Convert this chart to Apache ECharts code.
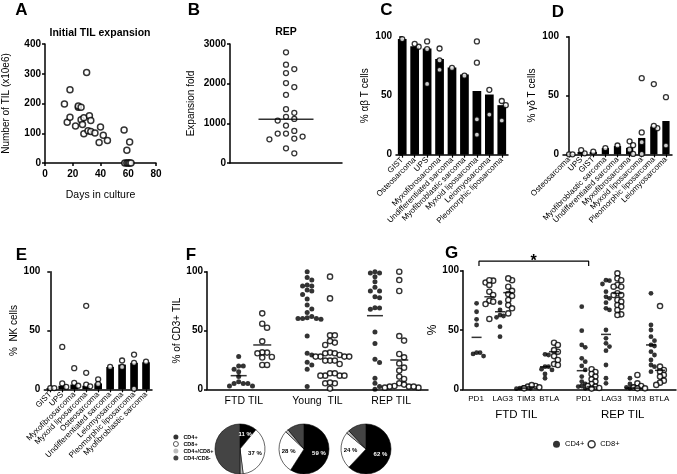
<!DOCTYPE html>
<html><head><meta charset="utf-8">
<script src="https://cdn.jsdelivr.net/npm/echarts@6/dist/echarts.min.js"></script>
<style>html,body{margin:0;padding:0;background:#fff}#c{width:677px;height:474px}</style>
</head><body><div id="c"></div>
<script>
// ================= DATA =================
// Panel A
const aDays = [14,18,16,18,22,24,24,26,30,26,27,28,32,33,28,31,33,36,40,39,42,45,57,61,59,57.5,59,60,61,62];
const aTil  = [198,246,137,154,124,187,192,187,304,145,129,152,159,143,98,108,106,101,121,69,93,76,111,71,43,0,0,0,0,0];
// Panel B
const bFold = [2790,2478,2368,2267,2014,1913,1719,1357,1264,1163,1070,1112,944,809,742,742,666,598,615,371,244];
const bMedian = 1104;
// Panel C
const cCats = ['GIST','Osteosarcoma','UPS','Myxofibrosarcoma','Undifferentiated sarcoma','Myofibroblastic sarcoma','Myxoid liposarcoma','Leiomyosarcoma','Pleomorphic liposarcoma'];
const cBars = [98,92,90,81,74,68,54,51,42];
const cDots = [[98],[91.5,94],[96,89.5,60],[90,80,72],[73.5],[67],[96,78,30,17],[55,34],[45.5,42,29]];
// Panel D
const dCats = ['Osteosarcoma','UPS','GIST','Myofibroblastic sarcoma','Undifferentiated sarcoma','Myxofibrosarcoma','Myxoid liposarcoma','Pleomorphic liposarcoma','Leiomyosarcoma'];
const dBars = [0,2,2,5.3,7,5.5,13.9,23.6,28.3];
const dDots = [[0,0],[0.8,3.6],[2.2],[5.3],[7.5],[11,7.8,3.9,0.3],[64.7,18.6,10.3,0.3],[59.7,22.2,24.2],[48.6,7.5]];
// Panel E
const eCats = ['GIST','UPS','Myxofibrosarcoma','Myxoid liposarcoma','Osteosarcoma','Undifferentiated sarcoma','Leiomyosarcoma','Pleomorphic liposarcoma','Myofibroblastic sarcoma'];
const eBars = [1,3,4,3,5,19,21,22.5,23];
const eDots = [[1,1],[36,5,2],[18,5.5,3],[71,14,4,2.5],[8.5,4.5],[19],[24.5,19],[29.5,22.5,0.5],[23.5]];
// Panel F
const fCats = ['FTD TIL','Young  TIL','REP TIL'];
const fCD4 = [
  [27.8,19.8,19.8,17,15,10.8,6.5,5,5,5,2.8,2.8],
  [100,95,93,88.7,87.8,87.8,84.4,83.6,80.7,76.8,71.7,68.3,65.4,61.8,60.3,59.5,60.3,60.3,60.9,45.3,29.2,30.6,22.9,20.7,17,2.3],
  [99,100,99,95.8,91.5,83.6,83.6,86.7,78.8,77.9,69.1,68,69.4,25.5,48.7,39,22.7,9.3,5.1,2.3,0]
];
const fCD8 = [
  [64.6,55.8,52.4,40.8,31.2,31.4,30.6,27.5,27,20.7,20.7],
  [95.8,77.3,45.9,45.9,39.7,37.7,41,31.2,30.6,30.6,29.2,27.8,27.8,27.8,27.8,24.4,24.4,24.4,21.5,11.6,11.6,11.6,11.6,13.6,13.6,5.1,5.1,5.7,0.6],
  [100,92.9,83.6,45.3,41.4,30,27.2,22,18.4,15.9,10.8,8.8,5.1,4,2.8,2.3,2.3,1.4,1.4,2.3]
];
const fMedCD4 = [11.6,null,62.6];
const fMedCD8 = [37.7,null,24.9];
const pieNames = ['CD4+','CD8+','CD4+/CD8+','CD4-/CD8-'];
const pieFTD = [11,37,2,50];
const pieYoung = [59,28,2,11];
const pieREP = [62,24,2,12];
// Panel G
const gMarkers = ['PD1','LAG3','TIM3','BTLA','PD1','LAG3','TIM3','BTLA'];
const gGroups = ['FTD TIL','REP TIL'];
const gCD4 = [
  [72.5,65.4,59,54.2,30.9,29.8,30.9,28],
  [73,66.9,62.6,61.8,60.7,52.8,44.4],
  [1.7,0.8,1.4,0.5,1],
  [29.5,28.9,19.1,19.1,16.3,13,9.3,17],
  [69.7,49.4,37.4,35.4,26.1,23.3,19.7,16.3,10.7,6.5,4.5,2.8,1.7,2.3,0.8],
  [92,91.6,88.8,82.3,78,76.7,73,68.3,66.9,50,43,38.8,36,32.6,20.5,9.3,5],
  [9.3,4.5,2.3,1.7,0.8,0.8],
  [80.9,54.2,50,44.4,41,37.4,36.5,31.7,28.9,24.7,20.5,19.1,14.9]
];
const gCD8 = [
  [91.6,90,88,92,82.3,79.5,74.7,73.9,71.9,59.3],
  [92,93.5,86.5,83,80.3,78.7,75.3,71,68.3,64],
  [2.8,2.3,0.8,1.7,3.5],
  [39.3,37.4,31.7,28,24.7,21.3,20.5,33],
  [16.9,14.6,12.9,10.7,8.4,6.5,4.5,2.8,2.3,1.1,0.6],
  [97.8,93.5,92,88,86.5,86.5,81,79.5,79.5,75.3,73.9,71,69.7,66.9,63.2,62.6],
  [12.1,5,2.8,1.7,0.8,0.8],
  [70.2,19.1,16.3,14.9,12.1,10.7,7.3,5.6,3.7]
];
const gMedCD4 = [43.8,65.4,1,19,15.7,46.3,1,37.4];
const gMedCD8 = [78,81.5,2,31.7,2,80.9,1,16];

// ================= LAYOUT =================
const FF = 'Liberation Sans';
const fCenter4 = [0.43,1.36,2.28], fCenter8 = [0.75,1.67,2.61];
const gCenter4 = [0.51,1.39,2.27,3.08,4.46,5.37,6.27,7.06];
const gCenter8 = [0.99,1.70,2.58,3.42,4.83,5.80,6.55,7.40];
const gLabelPos = [0.49,1.49,2.37,3.24,4.54,5.58,6.52,7.37];
const bracketX = [0.6,4.72];

// column beeswarm: places points in columns so they don't overlap
function swarm(values, center, stepPx, xPx, yPx, minDist) {
  const cols = {}; const out = new Array(values.length);
  const order = values.map((v,i)=>i).sort((a,b)=>values[b]-values[a]);
  order.forEach(i => {
    const py = values[i]*yPx;
    for (let k=0;k<60;k++) {
      const c = k===0?0:(k%2===1?(k+1)/2:-k/2);
      const list = cols[c]||(cols[c]=[]);
      if (list.every(q=>Math.abs(q-py)>=minDist)) { list.push(py); out[i]=[center+c*stepPx/xPx, values[i]]; break; }
    }
  });
  return out;
}
function swarmGroups(groups, centers, stepPx, xPx, yPx, minDist) {
  let all = [];
  groups.forEach((g,i)=>{ all = all.concat(swarm(g, centers[i], stepPx, xPx, yPx, minDist)); });
  return all;
}

const black = '#000';
const openStyle = {color:'#fff', borderColor:black, borderWidth:1.3};
function yAx(gridIndex, max, interval, name, nameGap, nameSize) {
  return {type:'value', gridIndex, min:0, max, interval, position:'left',
    name, nameLocation:'middle', nameGap,
    nameTextStyle:{fontSize:nameSize||10, color:black, fontFamily:FF},
    axisLine:{show:true, lineStyle:{color:black, width:1.5}},
    axisTick:{show:true, inside:false, length:3, lineStyle:{color:black, width:1.5}},
    axisLabel:{fontSize:10, fontWeight:'bold', color:black, margin:4, fontFamily:FF, formatter:(v)=>String(v)},
    splitLine:{show:false}};
}
function catAx(gridIndex, cats) {
  return {type:'category', gridIndex, data:cats, position:'bottom',
    axisLine:{show:true, lineStyle:{color:black, width:1.5}},
    axisTick:{show:true, alignWithLabel:true, length:3, lineStyle:{color:black, width:1.2}},
    axisLabel:{interval:0, rotate:45, fontSize:8, color:black, margin:4, fontFamily:FF}};
}
function hidAx(gridIndex, n) {
  return {type:'value', gridIndex, min:-0.5, max:n-0.5, show:false, position:'bottom'};
}
function medianData(meds, centers) {
  const out = [];
  meds.forEach((m,i)=>{ if (m!==null) out.push([centers[i], m]); });
  return out;
}
function pie(center, vals, c4, c8) {
  return {type:'pie', center, radius:25, startAngle:90, silent:true, avoidLabelOverlap:false,
    labelLine:{show:false},
    itemStyle:{borderColor:black, borderWidth:0.6},
    data: pieNames.map((n,i)=>({name:n, value:vals[i],
      itemStyle:{color:['#000','#fff','#bdbdbd','#444'][i]},
      label: i<2 ? {show:true, position:'inside', formatter:'{c} %', fontSize:6, fontWeight:'bold', fontFamily:FF, color: i===0?c4:c8} : {show:false}
    }))};
}

const grids = [
  {left:45, top:44, width:111, height:119},
  {left:230, top:44, width:112, height:119},
  {left:396, top:36.7, width:112, height:118},
  {left:563, top:36.7, width:109, height:117.6},
  {left:44.3, top:271.7, width:107.7, height:117.6},
  {left:207, top:271.7, width:221, height:117.6},
  {left:463, top:270.7, width:213, height:118.6}
].map(g=>Object.assign(g,{outerBoundsMode:'none', containLabel:false}));

const xAxis = [
  {type:'value', gridIndex:0, min:0, max:80, interval:20, position:'bottom',
    axisLine:{show:true, onZero:false, lineStyle:{color:black,width:1.5}},
    axisTick:{show:true, length:3, lineStyle:{color:black,width:1.5}},
    axisLabel:{fontSize:10, fontWeight:'bold', color:black, margin:6, fontFamily:FF},
    splitLine:{show:false}, name:'Days in culture', nameLocation:'middle', nameGap:27,
    nameTextStyle:{fontSize:10.5, color:black, fontFamily:FF}},
  {type:'value', gridIndex:1, min:0, max:1, position:'bottom',
    axisLine:{show:true, onZero:false, lineStyle:{color:black,width:1.5}},
    axisTick:{show:false}, axisLabel:{show:false}, splitLine:{show:false}},
  catAx(2, cCats), hidAx(2, cCats.length),
  catAx(3, dCats), hidAx(3, dCats.length),
  catAx(4, eCats), hidAx(4, eCats.length),
  {type:'value', gridIndex:5, min:0, max:3, position:'bottom',
    axisLine:{show:true, onZero:false, lineStyle:{color:black,width:1.5}},
    axisTick:{show:false}, axisLabel:{show:false}, splitLine:{show:false}},
  {type:'category', gridIndex:5, data:fCats, position:'bottom',
    axisLine:{show:false}, axisTick:{show:false},
    axisLabel:{fontSize:10.5, color:black, margin:6, fontFamily:FF}},
  {type:'value', gridIndex:6, min:0, max:8, position:'bottom',
    axisLine:{show:true, onZero:false, lineStyle:{color:black,width:1.5}},
    axisTick:{show:false}, splitLine:{show:false},
    axisLabel:{customValues:gLabelPos, fontSize:8, color:black, margin:5, fontFamily:FF,
      formatter:(v)=>{ const i = gLabelPos.findIndex(p=>Math.abs(p-v)<1e-6); return i>=0?gMarkers[i]:''; }}},
  {type:'category', gridIndex:6, data:gGroups, position:'bottom', offset:16,
    axisLine:{show:false}, axisTick:{show:false},
    axisLabel:{fontSize:11.5, color:black, margin:4, fontFamily:FF}}
];

const yAxis = [
  yAx(0, 400, 100, 'Number of TIL (x10e6)', 34),
  yAx(1, 3000, 1000, 'Expansion fold', 34),
  yAx(2, 100, 50, '% αβ T cells', 26),
  yAx(3, 100, 50, '% γδ T cells', 26),
  yAx(4, 100, 50, '%  NK cells', 21),
  yAx(5, 100, 50, '% of CD3+ TIL', 19),
  yAx(6, 100, 50, '%', 16, 12)
];

const dot = (x,y,data,extra)=>Object.assign({type:'scatter', xAxisIndex:x, yAxisIndex:y, data, symbol:'circle', symbolSize:5, itemStyle:openStyle, z:5, clip:false, silent:true}, extra||{});
const bar = (x,y,data,w)=>({type:'bar', xAxisIndex:x, yAxisIndex:y, data, barWidth:w, itemStyle:{color:black}, silent:true});
const med = (x,y,data,w)=>({type:'scatter', xAxisIndex:x, yAxisIndex:y, data, symbol:'rect', symbolSize:[w,1.5], itemStyle:{color:black}, z:6, silent:true});

const series = [
  dot(0,0, aDays.map((d,i)=>[d,aTil[i]]), {symbolSize:6, itemStyle:{color:'#fff',borderColor:black,borderWidth:1.5}}),
  dot(1,1, swarm(bFold, 0.5, 8.3, 112, 119/3000, 6)),
  med(1,1, [[0.5,bMedian]], 55),
  bar(2,2,cBars,'70%'),
  dot(3,2, swarmGroups(cDots, cCats.map((c,i)=>i), 4, 12.44, 1.18, 4.5)),
  bar(4,3,dBars,'60%'),
  dot(5,3, swarmGroups(dDots, dCats.map((c,i)=>i), 3.5, 12.1, 1.176, 4.5)),
  bar(6,4,eBars,'64%'),
  dot(7,4, swarmGroups(eDots, eCats.map((c,i)=>i), 4, 11.97, 1.176, 4.5)),
  dot(8,5, swarmGroups(fCD4, fCenter4, 4.6, 73.67, 1.176, 4.6), {name:'F CD4', itemStyle:{color:black}, symbolSize:5}),
  dot(8,5, swarmGroups(fCD8, fCenter8, 4.8, 73.67, 1.176, 4.8), {name:'F CD8', symbolSize:5.2, itemStyle:{color:'#fff',borderColor:black,borderWidth:1.4}}),
  med(8,5, medianData(fMedCD4, fCenter4), 16),
  med(8,5, medianData(fMedCD8, fCenter8), 18),
  pie([240,449], pieFTD, '#fff', '#000'),
  pie([304,449], pieYoung, '#fff', '#000'),
  pie([366,449], pieREP, '#fff', '#000'),
  dot(10,6, swarmGroups(gCD4, gCenter4, 3.5, 26.625, 1.186, 4.2), {name:'CD4+', itemStyle:{color:black}, symbolSize:4.8}),
  dot(10,6, swarmGroups(gCD8, gCenter8, 3.8, 26.625, 1.186, 4.6), {name:'CD8+', symbolSize:5.2, itemStyle:{color:'#fff',borderColor:black,borderWidth:1.4}}),
  med(10,6, medianData(gMedCD4, gCenter4), 10),
  med(10,6, medianData(gMedCD8, gCenter8), 10),
  {type:'line', xAxisIndex:10, yAxisIndex:6, clip:false, silent:true, symbol:'none',
    lineStyle:{color:black, width:1.2},
    data:[[bracketX[0],104],[bracketX[0],108],[bracketX[1],108],[bracketX[1],104]]}
];

const txt = (x,y,text,size,weight)=>({type:'text', x, y, silent:true,
  style:{text, fontSize:size, fontWeight:weight||'bold', fontFamily:FF, fill:black, align:'center', verticalAlign:'middle'}});

const option = {
  animation:false,
  backgroundColor:'#fff',
  textStyle:{fontFamily:FF},
  grid: grids, xAxis, yAxis, series,
  legend:[
    {orient:'vertical', left:173, top:434, padding:0, itemWidth:5, itemHeight:5, itemGap:1, selectedMode:false,
      textStyle:{fontSize:5.5, fontWeight:'bold', color:black, fontFamily:FF},
      data:[
        {name:'CD4+', icon:'circle', itemStyle:{color:black}},
        {name:'CD8+', icon:'circle', itemStyle:{color:'#fff', borderColor:black, borderWidth:0.8}},
        {name:'CD4+/CD8+', icon:'circle', itemStyle:{color:'#bdbdbd', borderWidth:0}},
        {name:'CD4-/CD8-', icon:'circle', itemStyle:{color:'#444', borderWidth:0}}
      ]},
    {orient:'horizontal', left:553, top:440, padding:0, itemWidth:7, itemHeight:7, itemGap:3, selectedMode:false,
      textStyle:{fontSize:7.5, color:black, fontFamily:FF},
      data:[
        {name:'CD4+', icon:'circle', itemStyle:{color:black}},
        {name:'CD8+', icon:'circle', itemStyle:{color:'#fff', borderColor:black, borderWidth:1.5}}
      ]}
  ],
  graphic:[
    txt(21.5,10,'A',17), txt(194,10,'B',17), txt(386.5,10,'C',17), txt(558,12,'D',17),
    txt(21.5,255,'E',17), txt(191,255,'F',17), txt(451.5,253,'G',17),
    txt(100,33,'Initial TIL expansion',10.5), txt(286,32,'REP',10.5),
    txt(533.5,262,'*',16)
  ]
};
const chart = echarts.init(document.getElementById('c'), null, {renderer:'canvas'});
chart.setOption(option);
</script></body></html>
